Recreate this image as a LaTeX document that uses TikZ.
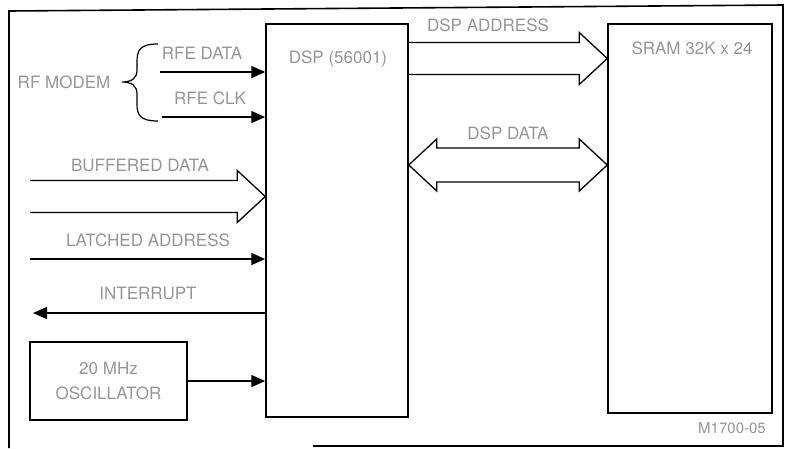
\documentclass[tikz,border=0pt]{standalone}
\usepackage{fontspec}
\setmainfont{TeX Gyre Heros}
\usetikzlibrary{arrows.meta,positioning,calc}
\definecolor{faded}{RGB}{150,150,150}
% right-pointing bus arrow, open at its tail
\newcommand{\busR}[2]{%
  \draw[bus] ($(#1)+(0,-16)$) -- ($(#2)+(-28,-16)$) -- ($(#2)+(-28,-26)$) -- (#2)
    -- ($(#2)+(-28,26)$) -- ($(#2)+(-28,16)$) -- ($(#1)+(0,16)$);}
\tikzset{
  blk/.style={draw, line width=1.5pt, inner sep=0pt},
  lbl/.style={font=\fontsize{17}{19}\selectfont, text=faded, inner sep=1pt},
  sig/.style={-{Triangle[length=14pt,width=12pt]}, line width=1.4pt},
  bus/.style={line width=1.3pt, line join=miter},
  frm/.style={line width=1.6pt},
}
\begin{document}
\begin{tikzpicture}[x=1pt, y=-1pt]
\useasboundingbox (0,0) rectangle (785,448);
\draw[frm] (9,448) -- (9,11) -- (783,5) -- (783,446) -- (313,446);
% blocks
\node[blk, minimum width=142pt, minimum height=393pt] (dsp) at (337,220.5) {};
\node[blk, minimum width=164pt, minimum height=389pt] (sram) at (690,218.5) {};
\node[lbl, blk, minimum width=157pt, minimum height=78pt, align=center,
  font=\fontsize{17}{25}\selectfont] (osc) at (108.5,381) {20 MHz\\OSCILLATOR};
\node[lbl] (dsplbl) at ($(dsp.north)+(1,36)$) {DSP (56001)};
\node[lbl] (sramlbl) at ($(sram.north)+(2,25)$) {SRAM 32K x 24};
% RF inputs
\node[lbl] (rflbl) at (64,82) {RF MODEM};
\draw[line width=1.2pt] (158,44) .. controls (140,44) and (137,50) .. (137,62) -- (137,70)
  .. controls (137,78) and (132,82) .. (122,82) .. controls (132,82) and (137,86) .. (137,94)
  -- (137,104) .. controls (137,115) and (140,121) .. (158,121);
\coordinate (rfed) at (160,72);
\coordinate (rfec) at (162,117);
\draw[sig] (rfed) -- (rfed -| dsp.west);
\draw[sig] (rfec) -- (rfec -| dsp.west);
\node[lbl] (rfedlbl) at (202,53) {RFE DATA};
\node[lbl] (rfeclbl) at (210,98) {RFE CLK};
% host side
\coordinate (bufL) at (30,196.5);
\coordinate (bufR) at (bufL -| dsp.west);
\busR{bufL}{bufR}
\node[lbl] (buflbl) at (140,165) {BUFFERED DATA};
\coordinate (lat) at (30,259);
\draw[sig] (lat) -- (lat -| dsp.west);
\node[lbl] (latlbl) at (148,240) {LATCHED ADDRESS};
\coordinate (irq) at (33,313);
\draw[sig] (irq -| dsp.west) -- (irq);
\node[lbl] (irqlbl) at (148,293) {INTERRUPT};
\draw[sig] (osc.east) -- (osc.east -| dsp.west);
% DSP to SRAM
\coordinate (addrL) at (dsp.east |- 0,58.5);
\coordinate (addrR) at (addrL -| sram.west);
\busR{addrL}{addrR}
\node[lbl] (addrlbl) at (488,25) {DSP ADDRESS};
\coordinate (datL) at (dsp.east |- 0,165);
\coordinate (datR) at (datL -| sram.west);
\draw[bus] ($(datL)+(28,-17)$) -- ($(datR)+(-28,-17)$) -- ($(datR)+(-28,-26)$) -- (datR)
  -- ($(datR)+(-28,26)$) -- ($(datR)+(-28,17)$) -- ($(datL)+(28,17)$)
  -- ($(datL)+(28,26)$) -- (datL) -- ($(datL)+(28,-26)$) -- cycle;
\node[lbl] (datlbl) at (508,133) {DSP DATA};
\node[lbl, font=\fontsize{15}{17}\selectfont] (figno) at (732,428) {M1700-05};
\end{tikzpicture}
\end{document}
